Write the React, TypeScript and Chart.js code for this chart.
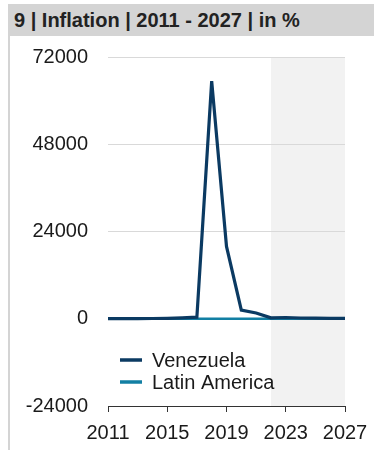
import React, { useEffect, useRef } from "react";
import { Chart, registerables } from "chart.js";

Chart.register(...registerables);

const years = [2011, 2012, 2013, 2014, 2015, 2016, 2017, 2018, 2019, 2020, 2021, 2022, 2023, 2024, 2025, 2026, 2027];
const venezuela = [26, 21, 41, 62, 122, 255, 438, 65374, 19906, 2355, 1589, 250, 350, 200, 150, 120, 100];
const latinAmerica = [6.7, 6.0, 6.8, 9.0, 12.0, 15.0, 12.0, 8.0, 7.7, 6.4, 9.8, 14.0, 11.0, 7.5, 6.0, 5.0, 4.5];
const seriesNames = ["Venezuela", "Latin America"];
const forecastStart = 2022;
const yTicks = [-24000, 0, 24000, 48000, 72000];
const xTicks = [2011, 2015, 2019, 2023, 2027];
const title = "9 | Inflation | 2011 - 2027 | in %";

const FONT = "'Liberation Sans', Arial, sans-serif";
const COLORS = ["#0b3a62", "#127fa3"];

export default function App() {
  const ref = useRef<HTMLCanvasElement>(null);
  useEffect(() => {
    if (!ref.current) return;
    const shade = {
      id: "shade",
      beforeDraw(chart: any) {
        const { ctx, chartArea, scales } = chart;
        const x0 = scales.x.getPixelForValue(forecastStart);
        ctx.save();
        ctx.fillStyle = "#f2f2f2";
        ctx.fillRect(x0, chartArea.top, chartArea.right - x0, chartArea.bottom - chartArea.top);
        ctx.restore();
      },
    };
    const legendIn = {
      id: "legendIn",
      afterDatasetsDraw(chart: any) {
        const { ctx, chartArea } = chart;
        ctx.save();
        ctx.font = "20px " + FONT;
        ctx.textBaseline = "middle";
        ctx.fillStyle = "#1a1a1a";
        chart.data.datasets.forEach((ds: any, i: number) => {
          const y = chartArea.bottom - 46 + i * 22;
          const x = chartArea.left + 12;
          ctx.strokeStyle = ds.borderColor;
          ctx.lineWidth = 3.5;
          ctx.beginPath();
          ctx.moveTo(x, y);
          ctx.lineTo(x + 22, y);
          ctx.stroke();
          ctx.fillText(ds.label, x + 32, y + 1);
        });
        ctx.restore();
      },
    };
    const chart = new Chart(ref.current, {
      type: "line",
      data: {
        datasets: [
          {
            label: seriesNames[0],
            data: years.map((y, i) => ({ x: y, y: venezuela[i] })),
            borderColor: COLORS[0],
            backgroundColor: COLORS[0],
            borderWidth: 3.2,
            pointRadius: 0,
            tension: 0,
          },
          {
            label: seriesNames[1],
            data: years.map((y, i) => ({ x: y, y: latinAmerica[i] })),
            borderColor: COLORS[1],
            backgroundColor: COLORS[1],
            borderWidth: 2.5,
            pointRadius: 0,
            tension: 0,
          },
        ],
      },
      options: {
        animation: false,
        responsive: false,
        layout: { padding: { top: 21, right: 29, left: 0, bottom: 0 } },
        plugins: { legend: { display: false }, tooltip: { enabled: false } },
        scales: {
          x: {
            type: "linear",
            min: 2011,
            max: 2027,
            afterBuildTicks: (axis: any) => {
              axis.ticks = xTicks.map((v) => ({ value: v }));
            },
            afterFit: (axis: any) => {
              axis.height = 44;
              axis.paddingLeft = 0;
              axis.paddingRight = 0;
            },
            grid: { drawOnChartArea: false, drawTicks: true, tickLength: 6, color: "#333" },
            border: { display: true, color: "#333", width: 1 },
            ticks: {
              font: { family: FONT, size: 20 },
              color: "#1a1a1a",
              padding: 9,
              maxRotation: 0,
              autoSkip: false,
              callback: (v: any) => String(v),
            },
          },
          y: {
            min: -24000,
            max: 72000,
            afterBuildTicks: (axis: any) => {
              axis.ticks = yTicks.map((v) => ({ value: v }));
            },
            afterFit: (axis: any) => {
              axis.width = 98;
            },
            grid: { drawTicks: true, tickLength: 20, tickColor: "rgba(0,0,0,0)", color: "#d9d9d9", lineWidth: 1 },
            border: { display: false },
            ticks: {
              font: { family: FONT, size: 20 },
              color: "#1a1a1a",
              padding: 0,
              callback: (v: any) => String(v),
            },
          },
        },
      },
      plugins: [shade, legendIn],
    } as any);
    return () => chart.destroy();
  }, []);

  return (
    <div style={{ position: "absolute", left: 8, top: 4, width: 366, height: 446, fontFamily: FONT }}>
      <div
        style={{
          height: 32,
          background: "#d4d4d4",
          color: "#222",
          fontWeight: "bold",
          fontSize: 20,
          lineHeight: "32px",
          paddingLeft: 6,
          whiteSpace: "nowrap",
        }}
      >
        {title}
      </div>
      <div style={{ borderLeft: "2px solid #d4d4d4", height: 414, width: 364 }}>
        <canvas ref={ref} width={364} height={414} style={{ display: "block" }} />
      </div>
    </div>
  );
}
